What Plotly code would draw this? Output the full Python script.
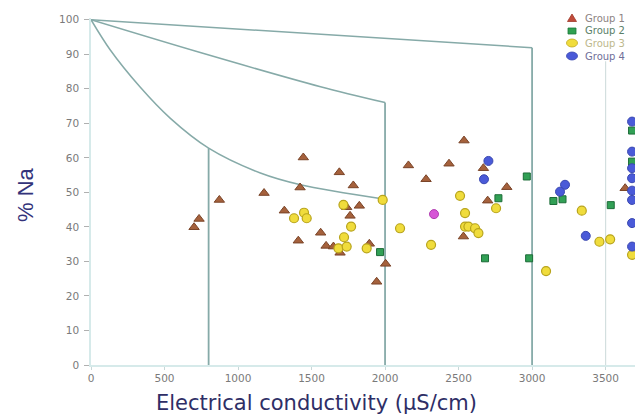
import plotly.graph_objects as go

# ---- data ----
g1_x = [1444, 1422, 1177, 873, 735, 701, 1315, 1410, 1689, 1784, 1739, 1825, 1762, 1562,
        1599, 1649, 1694, 1893, 2004, 1943, 2159, 2435, 2279, 2537, 2533, 2669, 2828, 2698, 3633]
g1_y = [60.1, 51.4, 49.8, 47.8, 42.3, 39.9, 44.7, 36.0, 55.8, 52.0, 45.7, 46.1, 43.2, 38.3,
        34.5, 34.3, 32.5, 35.1, 29.3, 24.1, 57.8, 58.3, 53.8, 65.0, 37.2, 57.0, 51.5, 47.6, 51.2]

g2_x = [1966, 2964, 2771, 2680, 2980, 3145, 3207, 3535, 3680, 3680]
g2_y = [32.7, 54.6, 48.3, 30.9, 30.9, 47.5, 48.0, 46.3, 67.9, 58.9]

g3_x = [1381, 1449, 1467, 1984, 1717, 1769, 1721, 1683, 1739, 1875, 2510, 2102, 2313, 2544,
        2544, 2755, 2567, 2612, 2635, 3338, 3458, 3531, 3095, 3680]
g3_y = [42.5, 44.1, 42.5, 47.8, 46.4, 40.1, 37.0, 33.8, 34.3, 33.8, 49.0, 39.6, 34.8, 44.0,
        40.1, 45.4, 40.1, 39.6, 38.2, 44.7, 35.7, 36.4, 27.2, 31.9]

g4_x = [2703, 2673, 3224, 3190, 3365, 3680, 3680, 3680, 3680, 3680, 3680, 3680, 3680]
g4_y = [59.1, 53.8, 52.2, 50.2, 37.4, 70.5, 61.8, 57.0, 54.1, 50.5, 47.8, 41.1, 34.3]

g5_x = [2333]
g5_y = [43.7]

group_names = ["Group 1", "Group 2", "Group 3", "Group 4"]

# Wilcox-type boundary curves
bound_low_x = [0, 130, 334, 538, 800, 1152, 1425, 2000]
bound_low_y = [100, 91.3, 80.5, 71.5, 62.8, 55.6, 52.2, 48.0]
bound_mid_x = [0, 743, 1561, 2000]
bound_mid_y = [100, 90.5, 80.6, 76.0]
bound_top_x = [0, 3000]
bound_top_y = [100, 91.9]
vlines_x = [800, 2000, 3000]
vlines_top = [62.8, 76.0, 91.9]
vline_far_x = 3500
vline_far_top = 88

x_ticks = [0, 500, 1000, 1500, 2000, 2500, 3000, 3500]
y_ticks = [0, 10, 20, 30, 40, 50, 60, 70, 80, 90, 100]

# ---- figure geometry (pixels) ----
W, H = 635, 414
ML, MR, MT, MB = 91, 0, 18, 49
PW, PH = W - ML - MR, H - MT - MB


def px_x(p):
    return (p - ML) / PW


def px_y(p):
    return (H - MB - p) / PH


line_col = "#86aaa8"
fig = go.Figure()

fig.add_trace(go.Scatter(x=bound_low_x, y=bound_low_y, mode="lines",
                         line=dict(color=line_col, width=1.5, shape="spline", smoothing=0.9),
                         showlegend=False, hoverinfo="skip"))
fig.add_trace(go.Scatter(x=bound_mid_x, y=bound_mid_y, mode="lines",
                         line=dict(color=line_col, width=1.5, shape="spline", smoothing=0.9),
                         showlegend=False, hoverinfo="skip"))
fig.add_trace(go.Scatter(x=bound_top_x, y=bound_top_y, mode="lines", line=dict(color=line_col, width=1.5),
                         showlegend=False, hoverinfo="skip"))
for vx, vt in zip(vlines_x, vlines_top):
    fig.add_trace(go.Scatter(x=[vx, vx], y=[0, vt], mode="lines", line=dict(color=line_col, width=1.8),
                             showlegend=False, hoverinfo="skip"))
fig.add_trace(go.Scatter(x=[vline_far_x, vline_far_x], y=[0, vline_far_top], mode="lines",
                         line=dict(color="#d3dfdf", width=1.2), showlegend=False, hoverinfo="skip"))

styles = [
    dict(symbol="triangle-up", size=9, color="#a5613c", line=dict(color="#7a4428", width=1)),
    dict(symbol="square", size=7, color="#31a055", line=dict(color="#1d6c38", width=1)),
    dict(symbol="circle", size=9, color="#f0dc3c", line=dict(color="#b8a41c", width=1.2)),
    dict(symbol="circle", size=9, color="#4a5ad8", line=dict(color="#3a48b0", width=1)),
]
for gx, gy, nm, st in zip([g1_x, g2_x, g3_x, g4_x], [g1_y, g2_y, g3_y, g4_y], group_names, styles):
    fig.add_trace(go.Scatter(x=gx, y=gy, mode="markers", name=nm, marker=st, showlegend=False))
fig.add_trace(go.Scatter(x=g5_x, y=g5_y, mode="markers", name="Group 5", showlegend=False,
                         marker=dict(symbol="circle", size=9, color="#d655d6", line=dict(color="#b03cb0", width=1))))

# ---- manual compact legend (top right) ----
leg_rows = [18, 31, 43, 56]
leg_mx, leg_tx = 572, 584
leg_text_cols = ["#8c8282", "#5a8068", "#bdb88c", "#6f6f99"]
shapes = []
annotations = []
r = leg_rows[0]
shapes.append(dict(type="path", xref="paper", yref="paper",
                   path=f"M {px_x(leg_mx-4.5)} {px_y(r+3.5)} L {px_x(leg_mx+4.5)} {px_y(r+3.5)} L {px_x(leg_mx)} {px_y(r-4)} Z",
                   fillcolor="#c04a3a", line=dict(color="#a03a2a", width=0.8)))
r = leg_rows[1]
shapes.append(dict(type="rect", xref="paper", yref="paper", x0=px_x(leg_mx-4), x1=px_x(leg_mx+4),
                   y0=px_y(r+3), y1=px_y(r-3), fillcolor="#2fa050", line=dict(color="#1d7a3a", width=0.8)))
r = leg_rows[2]
shapes.append(dict(type="circle", xref="paper", yref="paper", x0=px_x(leg_mx-5.5), x1=px_x(leg_mx+5.5),
                   y0=px_y(r+4), y1=px_y(r-4), fillcolor="#f0dc3c", line=dict(color="#c0aa20", width=0.8)))
r = leg_rows[3]
shapes.append(dict(type="circle", xref="paper", yref="paper", x0=px_x(leg_mx-5.5), x1=px_x(leg_mx+5.5),
                   y0=px_y(r+4), y1=px_y(r-4), fillcolor="#4a5ad8", line=dict(color="#3a48b0", width=0.8)))
for r, nm, c in zip(leg_rows, group_names, leg_text_cols):
    annotations.append(dict(text=nm, xref="paper", yref="paper", x=px_x(leg_tx), y=px_y(r),
                            xanchor="left", yanchor="middle", showarrow=False, borderpad=0,
                            font=dict(family="DejaVu Sans", size=10, color=c)))

annotations.append(dict(text="Electrical conductivity (µS/cm)", xref="paper", yref="paper",
                        x=px_x(316), y=px_y(403), xanchor="center", yanchor="middle", showarrow=False,
                        font=dict(family="DejaVu Sans", size=21, color="#2e2e66")))
annotations.append(dict(text="% Na", xref="paper", yref="paper", x=px_x(25), y=px_y(195), textangle=-90,
                        xanchor="center", yanchor="middle", showarrow=False,
                        font=dict(family="Liberation Sans, Arial", size=22, color="#33337a")))

tickfont = dict(family="DejaVu Sans", size=10.5, color="#7a7a7a")
fig.update_layout(
    width=W, height=H,
    margin=dict(l=ML, r=MR, t=MT, b=MB),
    paper_bgcolor="white", plot_bgcolor="white",
    font=dict(family="DejaVu Sans"),
    showlegend=False,
    shapes=shapes,
    annotations=annotations,
    xaxis=dict(range=[0, 3700], tickvals=x_ticks, ticktext=[str(v) for v in x_ticks],
               showgrid=False, zeroline=False, showline=True, linecolor="#d6eaea", linewidth=1.5,
               ticks="outside", ticklen=3, tickcolor="#c8d8d8", tickfont=tickfont),
    yaxis=dict(range=[0, 100.5], tickvals=y_ticks, ticktext=[str(v) for v in y_ticks],
               showgrid=False, zeroline=False, showline=True, linecolor="#d6eaea", linewidth=1.5,
               ticks="outside", ticklen=5, tickcolor="#b0b0b0", tickfont=tickfont, ticklabelstandoff=3),
)

fig.write_html("out.html")
